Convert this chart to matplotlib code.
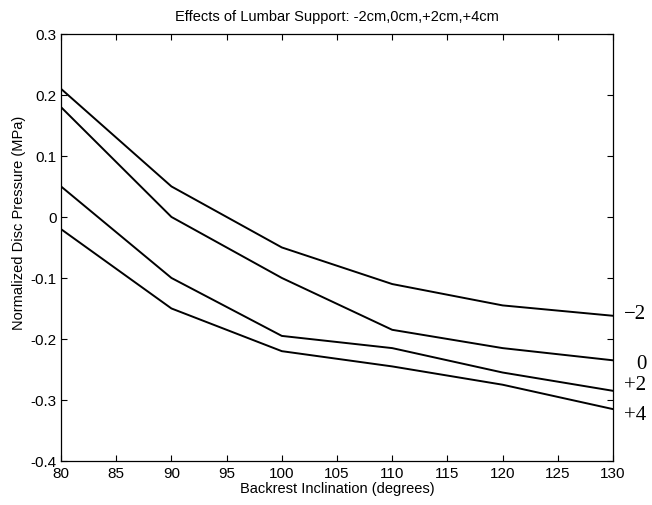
import matplotlib
matplotlib.use("Agg")
import matplotlib.pyplot as plt

x = [80, 90, 100, 110, 120, 130]
series_labels = ["\u22122", "0", "+2", "+4"]
s_m2 = [0.21, 0.05, -0.05, -0.11, -0.145, -0.162]
s_0 = [0.18, 0.0, -0.10, -0.185, -0.215, -0.235]
s_p2 = [0.05, -0.10, -0.195, -0.215, -0.255, -0.285]
s_p4 = [-0.02, -0.15, -0.22, -0.245, -0.275, -0.315]
label_y = [-0.158, -0.24, -0.275, -0.323]

plt.rcParams['font.family'] = ['Liberation Sans', 'DejaVu Sans']
fig = plt.figure(figsize=(6.52, 5.06), dpi=100)
ax = fig.add_axes([0.0936, 0.087, 0.8466, 0.844])

for s in [s_m2, s_0, s_p2, s_p4]:
    ax.plot(x, s, color='black', linewidth=1.4)

ax.set_xlim(80, 130)
ax.set_ylim(-0.4, 0.3)
ax.set_xticks(range(80, 131, 5))
ax.set_yticks([-0.4, -0.3, -0.2, -0.1, 0, 0.1, 0.2, 0.3])
ax.set_yticklabels(['-0.4', '-0.3', '-0.2', '-0.1', '0', '0.1', '0.2', '0.3'])
ax.tick_params(direction='in', top=True, right=True, labelsize=11, length=4, width=0.8)
ax.tick_params(axis='y', pad=3)
for sp in ax.spines.values():
    sp.set_linewidth(0.9)

ax.set_xlabel('Backrest Inclination (degrees)', fontsize=10.5, labelpad=1)
fig.text(19 / 652, 1 - 223 / 506, 'Normalized Disc Pressure (MPa)', rotation=90,
         ha='center', va='center', fontsize=10.5)
ax.set_title('Effects of Lumbar Support: -2cm,0cm,+2cm,+4cm', fontsize=10.5, pad=10)

for lab, yv in zip(series_labels, label_y):
    ax.text(1.06, yv, lab, transform=ax.get_yaxis_transform(), va='center', ha='right',
            fontsize=15, family=['Liberation Serif', 'DejaVu Serif'])

fig.savefig('out.png', dpi=100)
